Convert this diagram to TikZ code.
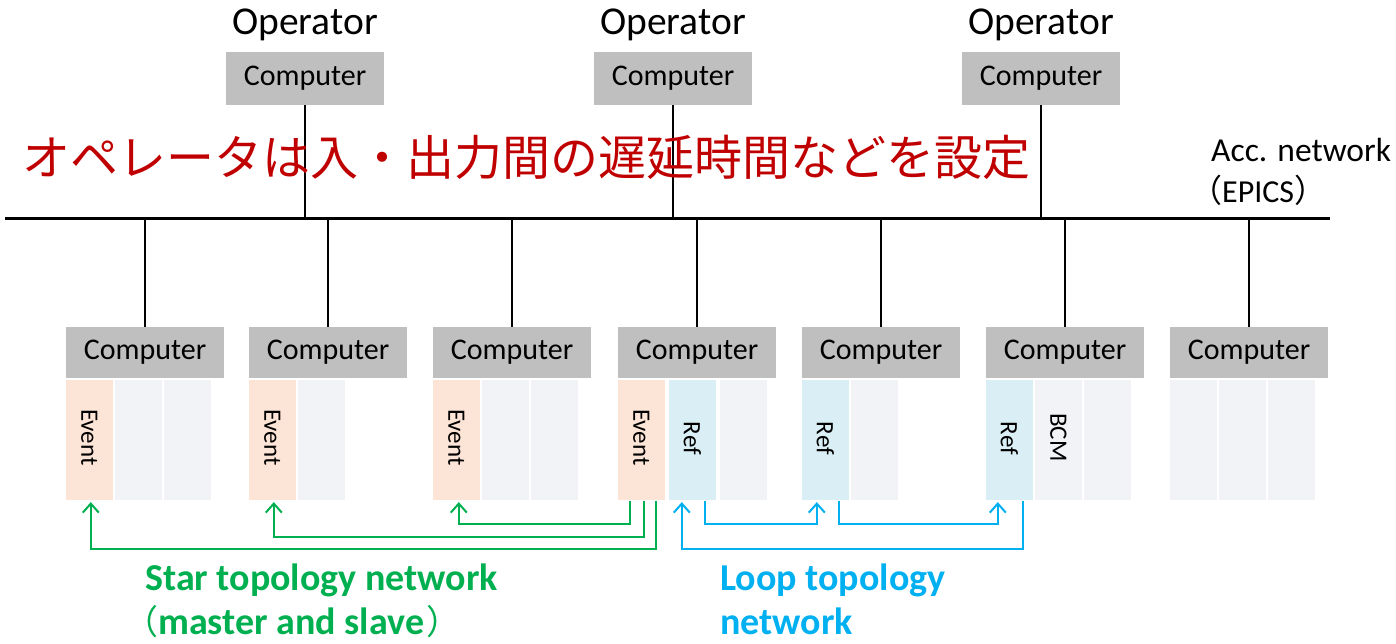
\documentclass[tikz,border=0pt]{standalone}
\usepackage{fontspec}
\setmainfont{Carlito}
\newfontfamily\jp{Noto Sans CJK JP}
\usetikzlibrary{arrows.meta,calc}
\definecolor{compgray}{RGB}{191,191,191}
\definecolor{evtc}{RGB}{252,228,214}
\definecolor{refc}{RGB}{218,238,245}
\definecolor{palec}{RGB}{242,243,247}
\definecolor{stargreen}{RGB}{0,176,80}
\definecolor{loopblue}{RGB}{0,176,240}
\definecolor{jpred}{RGB}{192,0,0}
\begin{document}
\begin{tikzpicture}[x=1pt,y=-1pt,
 comp/.style={fill=compgray,minimum width=158pt,minimum height=51pt,inner sep=0pt,font=\fontsize{30}{30}\selectfont},
 card/.style={minimum width=47pt,minimum height=120pt,inner sep=0pt,anchor=north},
 evt/.style={card,fill=evtc},
 refcard/.style={card,fill=refc},
 pale/.style={card,fill=palec},
 cardtxt/.style={rotate=-90,font=\fontsize{25}{25}\selectfont,inner sep=0pt},
 net/.style={line width=2.5pt,black},
 gline/.style={line width=2pt,stargreen},
 bline/.style={line width=2pt,loopblue},
 tip/.style={-{Straight Barb[length=9pt,width=16pt,line width=2pt]}},
 lbl/.style={anchor=west,inner sep=0pt},
 blbl/.style={anchor=base west,inner sep=0pt,font=\bfseries\fontsize{38}{38}\selectfont}
]
\useasboundingbox (0,0) rectangle (1396,643);

% operators
\foreach \i/\x in {1/305,2/673,3/1041}{
  \node[comp,minimum height=53pt] (t\i) at (\x,78.5) {Computer};
  \node[font=\fontsize{39.5}{39.5}\selectfont,inner sep=0pt] (o\i) at (\x,25) {Operator};
}

% bus
\coordinate (busL) at (5,218);
\coordinate (busR) at (1330,218);
\draw[line width=3pt] (busL) -- (busR);
\foreach \i in {1,2,3}{ \draw[net] (t\i.south) -- (t\i.south |- busL); }

% bottom computers
\foreach \i/\x in {1/145,2/328,3/512,4/697,5/881,6/1065,7/1249}{
  \node[comp] (c\i) at (\x,352.5) {Computer};
  \draw[net] (c\i.north) -- (c\i.north |- busL);
}

% cards
\node[evt]  (e1) at ($(c1.south west)+(23.5,2)$) {};
\node[pale] (p1a) at ($(c1.south west)+(72.5,2)$) {};
\node[pale] (p1b) at ($(c1.south west)+(121.5,2)$) {};

\node[evt]  (e2) at ($(c2.south west)+(23.5,2)$) {};
\node[pale] (p2a) at ($(c2.south west)+(72.5,2)$) {};

\node[evt]  (e3) at ($(c3.south west)+(23.5,2)$) {};
\node[pale] (p3a) at ($(c3.south west)+(72.5,2)$) {};
\node[pale] (p3b) at ($(c3.south west)+(121.5,2)$) {};

\node[evt]  (e4) at ($(c4.south west)+(23.5,2)$) {};
\node[refcard] (r4) at ($(c4.south west)+(74.5,2)$) {};
\node[pale] (p4a) at ($(c4.south west)+(125.5,2)$) {};

\node[refcard] (r5) at ($(c5.south west)+(23.5,2)$) {};
\node[pale] (p5a) at ($(c5.south west)+(72.5,2)$) {};

\node[refcard] (r6) at ($(c6.south west)+(23.5,2)$) {};
\node[pale] (b6) at ($(c6.south west)+(72.5,2)$) {};
\node[pale] (p6a) at ($(c6.south west)+(121.5,2)$) {};

\node[pale] (p7a) at ($(c7.south west)+(23.5,2)$) {};
\node[pale] (p7b) at ($(c7.south west)+(72.5,2)$) {};
\node[pale] (p7c) at ($(c7.south west)+(121.5,2)$) {};

\foreach \n in {e1,e2,e3,e4}{ \node[cardtxt] at ($(\n.center)+(0,-3)$) {Event}; }
\foreach \n in {r4,r5,r6}{ \node[cardtxt] at ($(\n.center)+(0,-2)$) {Ref}; }
\node[cardtxt] at ($(b6.center)+(0,-3)$) {BCM};

% star topology
\draw[gline,tip] ([xshift=-11.5pt]e4.south) -- ++(0,23) -| ([xshift=2.5pt,yshift=-1.5pt]e3.south);
\draw[gline,tip] ([xshift=2.5pt]e4.south) -- ++(0,36) -| ([xshift=1.5pt,yshift=-1.5pt]e2.south);
\draw[gline,tip] ([xshift=14.5pt]e4.south) -- ++(0,48) -| ([xshift=1.5pt,yshift=-1.5pt]e1.south);

% loop topology
\draw[bline,tip] ([xshift=12.5pt]r4.south) -- ++(0,23) -| ([xshift=-8.5pt,yshift=-1.5pt]r5.south);
\draw[bline,tip] ([xshift=13.5pt]r5.south) -- ++(0,23) -| ([xshift=-11.5pt,yshift=-1.5pt]r6.south);
\draw[bline,tip] ([xshift=13.5pt]r6.south) -- ++(0,48) -| ([xshift=-10.5pt,yshift=-1.5pt]r4.south);

% texts
\node[lbl,text=jpred,font=\jp\fontsize{48}{48}\selectfont] (jp) at (22,157) {オペレータは入・出力間の遅延時間などを設定};
\node[lbl,font=\fontsize{33.5}{33.5}\selectfont] (acc) at (1211,150) {Acc. network};
\node[lbl,font=\fontsize{32}{32}\selectfont] (epics) at (1190,190) {{\jp（}EPICS{\jp）}};

\node[blbl,text=stargreen] (star) at (145,590) {Star topology network};
\node[blbl,text=stargreen] (ms) at (124,634) {{\jp\mdseries\fontsize{34}{34}\selectfont（}master and slave\hspace{2pt}{\jp\mdseries\fontsize{34}{34}\selectfont）}};
\node[blbl,text=loopblue] (loop) at (720,590) {Loop topology};
\node[blbl,text=loopblue] (lnet) at (720,634) {network};
\end{tikzpicture}
\end{document}
